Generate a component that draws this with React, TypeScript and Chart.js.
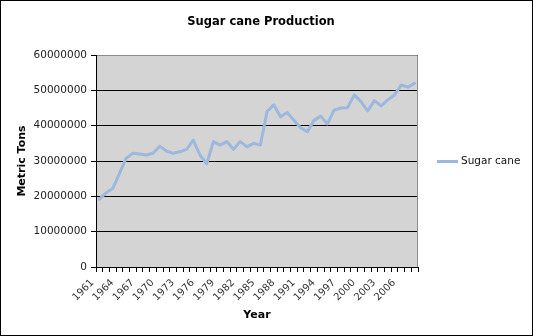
import React, { useEffect, useRef } from 'react';
import { Chart, registerables } from 'chart.js';

Chart.register(...registerables);

const TITLE = 'Sugar cane Production';
const SERIES_NAME = 'Sugar cane';
const X_TITLE = 'Year';
const Y_TITLE = 'Metric Tons';

const YEARS = [
  '1961', '1962', '1963', '1964', '1965', '1966', '1967', '1968', '1969', '1970',
  '1971', '1972', '1973', '1974', '1975', '1976', '1977', '1978', '1979', '1980',
  '1981', '1982', '1983', '1984', '1985', '1986', '1987', '1988', '1989', '1990',
  '1991', '1992', '1993', '1994', '1995', '1996', '1997', '1998', '1999', '2000',
  '2001', '2002', '2003', '2004', '2005', '2006', '2007', '2008',
];

const PRODUCTION = [
  19200000, 21000000, 22200000, 26500000, 30800000, 32200000, 32000000, 31700000, 32200000, 34200000,
  32800000, 32200000, 32600000, 33300000, 35900000, 31700000, 29200000, 35500000, 34500000, 35500000,
  33300000, 35500000, 34000000, 35000000, 34500000, 44000000, 45900000, 42500000, 43700000, 41500000,
  39400000, 38300000, 41500000, 42700000, 40500000, 44400000, 45000000, 45100000, 48700000, 46800000,
  44200000, 47100000, 45600000, 47300000, 48700000, 51500000, 50900000, 52000000,
];

const Y_TICKS = [0, 10000000, 20000000, 30000000, 40000000, 50000000, 60000000];

const FONT = '"DejaVu Sans", Verdana, sans-serif';
const LINE_COLOR = '#9db8dd';
const PLOT_BG = '#d4d4d4';

export default function App() {
  const ref = useRef<HTMLCanvasElement>(null);

  useEffect(() => {
    const canvas = ref.current;
    if (!canvas) return;

    const framePlugin = {
      id: 'frame',
      beforeDraw(chart: any) {
        const { ctx, chartArea: a } = chart;
        ctx.save();
        ctx.fillStyle = '#ffffff';
        ctx.fillRect(0, 0, chart.width, chart.height);
        ctx.fillStyle = PLOT_BG;
        ctx.fillRect(a.left, a.top, a.right - a.left, a.bottom - a.top);
        ctx.restore();
      },
      beforeDatasetsDraw(chart: any) {
        const { ctx, chartArea: a } = chart;
        ctx.save();
        ctx.strokeStyle = '#8c8c8c';
        ctx.lineWidth = 1;
        ctx.beginPath();
        ctx.moveTo(a.left + 1, Math.round(a.top) + 0.5);
        ctx.lineTo(Math.round(a.right) - 0.5, Math.round(a.top) + 0.5);
        ctx.lineTo(Math.round(a.right) - 0.5, a.bottom);
        ctx.stroke();
        ctx.restore();
      },
      afterDraw(chart: any) {
        const { ctx, chartArea: a } = chart;
        ctx.save();
        // title
        ctx.fillStyle = '#000';
        ctx.font = `bold 11.5px ${FONT}`;
        ctx.textAlign = 'center';
        ctx.textBaseline = 'middle';
        ctx.fillText(TITLE, (a.left + a.right) / 2 + 4, 22);
        // legend
        const ds = chart.data.datasets[0];
        const ly = Math.round((a.top + a.bottom) / 2) + 0.5;
        ctx.strokeStyle = ds.borderColor;
        ctx.lineWidth = 3;
        ctx.beginPath();
        ctx.moveTo(a.right + 19, ly);
        ctx.lineTo(a.right + 40, ly);
        ctx.stroke();
        ctx.font = `10.5px ${FONT}`;
        ctx.textAlign = 'left';
        ctx.fillStyle = '#111';
        ctx.fillText(ds.label, a.right + 43, ly);
        // outer frame
        ctx.strokeStyle = '#000';
        ctx.lineWidth = 1;
        ctx.strokeRect(0.5, 0.5, chart.width - 1, chart.height - 1);
        ctx.restore();
      },
    };

    const chart = new Chart(canvas, {
      type: 'line',
      data: {
        labels: YEARS,
        datasets: [
          {
            label: SERIES_NAME,
            data: PRODUCTION,
            borderColor: LINE_COLOR,
            borderWidth: 3,
            pointRadius: 0,
            tension: 0,
            fill: false,
            borderJoinStyle: 'round',
            borderCapStyle: 'round',
          },
        ],
      },
      options: {
        responsive: false,
        animation: false,
        events: [],
        layout: { padding: { top: 55, right: 115, left: 0, bottom: 0 } },
        plugins: {
          legend: { display: false },
          title: { display: false },
          tooltip: { enabled: false },
        },
        scales: {
          x: {
            type: 'category',
            offset: true,
            grid: {
              offset: true,
              drawOnChartArea: false,
              drawTicks: true,
              tickLength: 5,
              color: '#000',
              tickColor: '#000',
            },
            border: { display: true, color: '#000', width: 1 },
            ticks: {
              autoSkip: false,
              maxRotation: 45,
              minRotation: 45,
              padding: 5,
              labelOffset: -7,
              color: '#333',
              font: { family: FONT, size: 10 },
              callback: (_v: any, i: number) => (i % 3 === 0 ? YEARS[i] : ''),
            },
            title: {
              display: true,
              text: X_TITLE,
              color: '#000',
              font: { family: FONT, size: 11, weight: 'bold' },
              padding: { top: 0, bottom: 14 },
            },
            afterFit: (s: any) => {
              s.height = 69;
            },
          },
          y: {
            min: 0,
            max: 60000000,
            afterBuildTicks: (s: any) => {
              s.ticks = Y_TICKS.map((v) => ({ value: v }));
            },
            grid: {
              color: '#000',
              tickColor: '#000',
              drawTicks: true,
              tickLength: 5,
            },
            border: { display: true, color: '#000', width: 1 },
            ticks: {
              padding: 4,
              color: '#222',
              font: { family: FONT, size: 10.5 },
              callback: (v: any) => String(v),
            },
            title: {
              display: true,
              text: Y_TITLE,
              color: '#000',
              font: { family: FONT, size: 11, weight: 'bold' },
              padding: { top: 16, bottom: 0 },
            },
            afterFit: (s: any) => {
              s.width = 96;
            },
          },
        },
      },
      plugins: [framePlugin],
    } as any);

    return () => chart.destroy();
  }, []);

  return (
    <div style={{ position: 'absolute', left: 0, top: 0, width: 533, height: 336 }}>
      <canvas ref={ref} width={533} height={336} style={{ display: 'block' }} />
    </div>
  );
}
